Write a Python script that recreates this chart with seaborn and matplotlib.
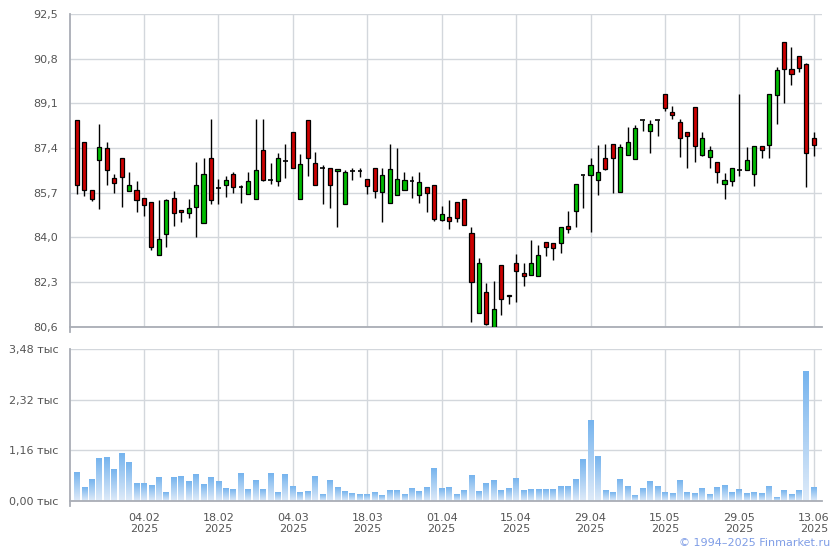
import numpy as np
import pandas as pd
import seaborn as sns
import matplotlib.pyplot as plt
from matplotlib.colors import LinearSegmentedColormap

# daily candles, Jan 22 - Jun 13 2025 (trading days)
opens = [88.45, 87.62, 85.79, 86.93, 87.39, 86.25, 87.01, 85.75, 85.79, 85.49,
         85.34, 83.32, 84.12, 85.49, 85.03, 84.92, 85.15, 84.54, 87.01, 85.87,
         85.98, 86.40, 85.91, 85.64, 85.45, 87.31, 86.17, 86.14, 86.89, 88.00,
         85.45, 88.45, 86.82, 86.63, 86.63, 86.51, 85.26, 86.51, 86.51, 86.21,
         86.63, 85.72, 85.30, 85.60, 85.79, 86.14, 85.60, 85.91, 85.98, 84.65,
         84.76, 85.33, 85.45, 84.15, 81.11, 81.91, 80.60, 82.93, 81.79, 83.01,
         82.63, 82.56, 82.52, 83.81, 83.77, 83.77, 84.42, 84.99, 86.36, 86.36,
         86.17, 87.01, 87.54, 85.71, 87.12, 86.97, 88.45, 88.03, 88.45, 89.44,
         88.76, 88.38, 88.00, 88.95, 87.12, 87.05, 86.85, 86.02, 86.13, 86.55,
         86.55, 86.40, 87.46, 87.50, 89.40, 91.42, 90.39, 90.89, 90.58, 87.77]
highs = [88.45, 87.62, 85.79, 88.30, 87.62, 86.40, 87.01, 86.49, 86.15, 85.49,
         85.34, 85.42, 85.45, 85.77, 85.03, 85.46, 86.86, 87.01, 88.49, 86.21,
         86.32, 86.49, 85.98, 86.49, 88.49, 88.49, 86.82, 87.20, 87.54, 88.00,
         87.16, 88.45, 87.24, 86.74, 86.63, 86.59, 86.55, 86.63, 86.63, 86.21,
         86.63, 86.63, 87.54, 87.39, 86.48, 86.32, 86.48, 85.91, 85.98, 85.18,
         85.41, 85.33, 85.45, 84.38, 83.20, 82.25, 82.33, 82.93, 81.79, 83.35,
         83.01, 83.89, 83.70, 83.81, 83.77, 84.38, 84.99, 86.02, 86.36, 87.01,
         87.50, 87.54, 87.54, 87.54, 88.19, 88.26, 88.45, 88.45, 88.45, 89.44,
         88.99, 88.49, 88.00, 88.95, 88.00, 87.46, 86.85, 86.44, 86.63, 89.44,
         87.43, 87.46, 87.46, 89.44, 90.47, 91.42, 91.23, 90.89, 90.62, 88.00]
lows = [85.65, 85.58, 85.40, 85.09, 86.01, 85.70, 85.17, 85.75, 84.98, 84.80,
        83.51, 83.32, 83.65, 84.45, 84.60, 84.75, 84.03, 84.54, 85.28, 85.28,
        85.55, 85.67, 85.32, 85.64, 85.45, 86.14, 86.02, 85.94, 86.27, 86.63,
        85.45, 86.32, 85.98, 85.28, 85.13, 84.38, 85.26, 86.17, 86.29, 85.64,
        85.51, 84.60, 85.30, 85.60, 85.79, 85.51, 85.30, 84.98, 84.64, 84.61,
        84.30, 84.57, 84.46, 80.77, 81.11, 80.65, 80.60, 81.03, 81.45, 81.53,
        82.14, 82.56, 82.52, 83.28, 83.13, 83.39, 84.15, 84.38, 85.10, 84.19,
        85.60, 86.55, 85.68, 85.71, 87.12, 86.97, 88.03, 87.20, 87.84, 88.79,
        88.49, 87.05, 86.63, 86.86, 87.08, 86.63, 86.06, 85.45, 85.94, 86.32,
        86.55, 85.94, 87.01, 87.01, 88.30, 89.10, 89.79, 90.28, 85.90, 87.08]
closes = [86.01, 85.82, 85.45, 87.43, 86.58, 86.06, 86.29, 85.98, 85.42, 85.22,
          83.62, 83.93, 85.42, 84.92, 84.95, 85.11, 85.98, 86.40, 85.41, 85.87,
          86.17, 85.91, 85.91, 86.14, 86.55, 86.20, 86.17, 87.01, 86.89, 86.63,
          86.78, 87.01, 85.98, 86.63, 85.98, 86.59, 86.48, 86.51, 86.51, 85.94,
          85.75, 86.36, 86.59, 86.21, 86.17, 86.14, 86.10, 85.68, 84.69, 84.88,
          84.61, 84.72, 84.46, 82.29, 83.01, 80.69, 81.26, 81.64, 81.76, 82.71,
          82.52, 83.01, 83.32, 83.62, 83.58, 84.38, 84.30, 86.02, 86.36, 86.74,
          86.47, 86.59, 87.01, 87.43, 87.62, 88.15, 88.45, 88.30, 88.45, 88.91,
          88.64, 87.80, 87.84, 87.46, 87.80, 87.31, 86.47, 86.17, 86.63, 86.55,
          86.93, 87.46, 87.31, 89.44, 90.36, 90.39, 90.20, 90.43, 87.20, 87.50]
# volume, thousands
volume = [0.665, 0.32, 0.505, 0.986, 1.01, 0.734, 1.10, 0.894, 0.413, 0.413,
          0.367, 0.55, 0.206, 0.55, 0.573, 0.459, 0.619, 0.39, 0.55, 0.459,
          0.298, 0.275, 0.642, 0.275, 0.482, 0.275, 0.642, 0.206, 0.619, 0.344,
          0.206, 0.229, 0.573, 0.16, 0.482, 0.32, 0.229, 0.183, 0.16, 0.16,
          0.206, 0.115, 0.252, 0.252, 0.138, 0.298, 0.229, 0.32, 0.757, 0.298,
          0.32, 0.138, 0.252, 0.596, 0.229, 0.413, 0.482, 0.252, 0.298, 0.528,
          0.252, 0.275, 0.275, 0.275, 0.275, 0.344, 0.344, 0.505, 0.963, 1.858,
          1.032, 0.252, 0.206, 0.505, 0.344, 0.115, 0.298, 0.459, 0.344, 0.206,
          0.183, 0.482, 0.206, 0.183, 0.298, 0.138, 0.32, 0.367, 0.206, 0.275,
          0.183, 0.206, 0.183, 0.344, 0.069, 0.252, 0.16, 0.252, 2.98, 0.32]

tick_pos = [9, 19, 29, 39, 49, 59, 69, 79, 89, 99]
tick_labels = ['04.02\n2025', '18.02\n2025', '04.03\n2025', '18.03\n2025', '01.04\n2025',
               '15.04\n2025', '29.04\n2025', '15.05\n2025', '29.05\n2025', '13.06\n2025']
price_ticks = [80.6, 82.3, 84.0, 85.7, 87.4, 89.1, 90.8, 92.5]
price_labels = ['80,6', '82,3', '84,0', '85,7', '87,4', '89,1', '90,8', '92,5']
vol_ticks = [0, 1.16, 2.32, 3.48]
vol_labels = ['0,00 тыс', '1,16 тыс', '2,32 тыс', '3,48 тыс']

df = pd.DataFrame({'i': np.arange(len(opens)), 'open': opens, 'high': highs,
                   'low': lows, 'close': closes, 'vol': volume})

sns.set_style('white')
plt.rcParams['font.family'] = ['DejaVu Sans']

grid_c = '#d3d7dc'
spine_c = '#a9adb5'
text_c = '#555555'

fig = plt.figure(figsize=(8.4, 5.5), dpi=100)
ax = fig.add_axes([70 / 840, 1 - 326.7 / 550, 752 / 840, 312.7 / 550])
vax = fig.add_axes([70 / 840, 1 - 500.7 / 550, 752 / 840, 151.4 / 550])

# candles
ax.vlines(df['i'], df['low'], df['high'], color='black', lw=1, zorder=3)
for _, r in df.iterrows():
    if abs(r['close'] - r['open']) < 0.02:
        ax.hlines(r['open'], r['i'] - 0.3, r['i'] + 0.3, color='black', lw=1.2, zorder=4)
        continue
    col = '#00bb00' if r['close'] > r['open'] else '#cc0000'
    ax.bar(r['i'], abs(r['close'] - r['open']), bottom=min(r['open'], r['close']),
           width=0.55, color=col, edgecolor='black', lw=0.9, zorder=4)

# volume
sns.barplot(data=df, x='i', y='vol', native_scale=True, width=0.78,
            errorbar=None, ax=vax)
cmap = LinearSegmentedColormap.from_list('vol', ['#dfebf9', '#76b4ee'])
grad = np.linspace(0, 1, 64).reshape(-1, 1)
for bar in vax.patches:
    x0, w, h = bar.get_x(), bar.get_width(), bar.get_height()
    bar.set_visible(False)
    vax.imshow(grad, extent=(x0, x0 + w, 0, h), origin='lower', cmap=cmap,
               aspect='auto', zorder=2)

for a in (ax, vax):
    a.set_xlim(-0.94, 100.1)
    a.set_xticks(tick_pos)
    a.grid(True, color=grid_c, lw=1, zorder=0)
    a.set_axisbelow(True)
    for s in ('top', 'right'):
        a.spines[s].set_visible(False)
    for s in ('left', 'bottom'):
        a.spines[s].set_color(spine_c)
        a.spines[s].set_linewidth(1.3)
    a.tick_params(axis='both', colors=spine_c, length=5, width=1, labelcolor=text_c, labelsize=8)
    a.set_xlabel('')
    a.set_ylabel('')

ax.set_ylim(80.6, 92.5)
ax.set_yticks(price_ticks)
ax.set_yticklabels(price_labels)
ax.spines['left'].set_bounds(80.6 - 5 / 26.3, 92.5)
ax.tick_params(axis='x', labelbottom=False)

vax.set_ylim(0, 3.48)
vax.set_yticks(vol_ticks)
vax.set_yticklabels(vol_labels)
vax.spines['left'].set_bounds(-5 / 43.6, 3.48)
vax.set_xticklabels(tick_labels)

fig.text(830 / 840, 1 - 543 / 550, '\u00a9 1994\u20132025 Finmarket.ru', ha='right', va='center',
         color='#7f9de6', fontsize=8)

fig.savefig('out.png', dpi=100)
